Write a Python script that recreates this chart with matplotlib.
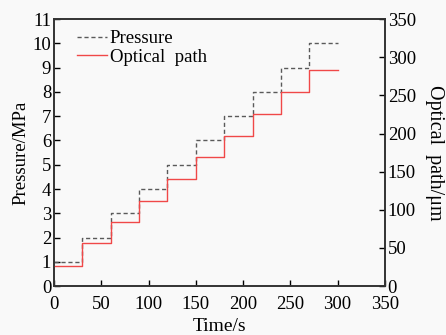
import matplotlib
matplotlib.use('Agg')
import matplotlib.pyplot as plt

plt.rcParams['font.family'] = ['Liberation Serif', 'DejaVu Serif']

# step start times (s) and levels
t_steps = [0, 30, 60, 90, 120, 150, 180, 210, 240, 270, 300]
pressure = [1, 2, 3, 4, 5, 6, 7, 8, 9, 10]            # MPa
optical = [26, 56, 84, 112, 141, 169, 197, 225, 254, 283]  # um

fig = plt.figure(figsize=(4.46, 3.35), dpi=100, facecolor='#f9f9f9')
ax = fig.add_axes([0.121, 0.146, 0.742, 0.797])
ax.set_facecolor('#f9f9f9')
ax2 = ax.twinx()

p_line, = ax.step(t_steps, pressure + [pressure[-1]], where='post',
                  color='#5a5a5a', ls=(0, (3, 2)), lw=1.0, label='Pressure')
o_line, = ax2.step(t_steps, optical + [optical[-1]], where='post',
                   color='#f04848', lw=1.0, label='Optical  path')

ax.set_xlim(0, 350)
ax.set_ylim(0, 11)
ax2.set_ylim(0, 350)
ax.set_xticks(range(0, 351, 50))
ax.set_yticks(range(0, 12))
ax2.set_yticks(range(0, 351, 50))

for a in (ax, ax2):
    a.tick_params(direction='in', labelsize=13.5, length=4, width=1, pad=2)
    for s in a.spines.values():
        s.set_linewidth(1.2)
        s.set_color('#333333')
ax.tick_params(axis='x', pad=7)

ax.set_xlabel('Time/s', fontsize=14, labelpad=4)
ax.set_ylabel('Pressure/MPa', fontsize=13.5, labelpad=2)
ax2.set_ylabel('Optical  path/μm', fontsize=14.5, rotation=270, labelpad=20)

ax.legend([p_line, o_line], ['Pressure', 'Optical  path'], loc='upper left',
          frameon=False, fontsize=13.5, handlelength=1.6, handletextpad=0.15,
          labelspacing=0.05, borderaxespad=0.2, bbox_to_anchor=(0.035, 1.0))

fig.savefig('out.png', dpi=100, facecolor=fig.get_facecolor())
